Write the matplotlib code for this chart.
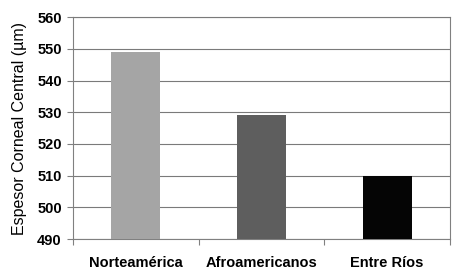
import matplotlib.pyplot as plt

# --- Data ---
groups = ["Norteamérica", "Afroamericanos", "Entre Ríos"]
espesor = [549, 529, 510]
bar_colors = ["#a5a5a5", "#5e5e5e", "#050505"]
y_ticks = [490, 500, 510, 520, 530, 540, 550, 560]

plt.rcParams["font.family"] = ["Liberation Sans", "DejaVu Sans"]

fig = plt.figure(figsize=(4.61, 2.80), dpi=100)
ax = fig.add_axes([0.158, 0.146, 0.818, 0.793])

x = list(range(len(groups)))
ax.bar(x, [v - 490 for v in espesor], bottom=490, width=0.39,
       color=bar_colors, zorder=3)

ax.set_xlim(-0.5, 2.5)
ax.set_ylim(490, 560)
ax.set_yticks(y_ticks)
ax.set_yticklabels([str(t) for t in y_ticks], fontsize=10.5, fontweight="bold")
ax.set_xticks(x)
ax.set_xticklabels(groups, fontsize=10.5, fontweight="bold")
ax.tick_params(axis="x", length=0, pad=12)
ax.tick_params(axis="y", length=4, width=0.8, color="#808080", pad=4)

# small category separator ticks on x axis
ax.set_xticks([-0.5, 0.5, 1.5, 2.5], minor=True)
ax.tick_params(axis="x", which="minor", length=4, width=0.8, color="#808080")

ax.grid(axis="y", color="#7a7a7a", linewidth=0.8, zorder=0)
for side in ["left", "bottom", "right"]:
    ax.spines[side].set_color("#808080")
    ax.spines[side].set_linewidth(0.8)
ax.spines["top"].set_color("#7a7a7a")
ax.spines["top"].set_linewidth(0.8)

ax.set_ylabel("Espesor Corneal Central (µm)", fontsize=11.5, labelpad=7)

fig.savefig("out.png", dpi=100)
